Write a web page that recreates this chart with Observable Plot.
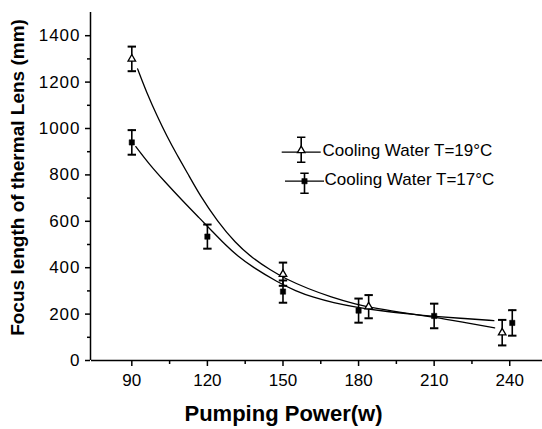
<!DOCTYPE html>
<html>
<head>
<meta charset="utf-8">
<script src="https://cdn.jsdelivr.net/npm/d3@7"></script>
<script src="https://cdn.jsdelivr.net/npm/@observablehq/plot@0.6"></script>
<style>
  html, body { margin: 0; padding: 0; background: #fff; }
  g[aria-label="y-axis tick label"] text { letter-spacing: 1px; }
</style>
</head>
<body>
<div id="chart"></div>
<script>
// --- data ---
const power19 = [90, 150, 184, 237];
const focus19 = [1300, 372, 232, 120];
const err19   = [53, 50, 50, 55];

const power17 = [90, 120, 150, 180, 210, 241];
const focus17 = [940, 534, 297, 215, 192, 162];
const err17   = [53, 52, 48, 52, 53, 55];

// fitted curves
const fit19X = [92.3, 96, 100, 104, 108, 112, 117, 124, 131, 138, 145, 151, 160, 169, 179, 187, 200, 210, 221, 234];
const fit19Y = [1257, 1152, 1055, 965, 885, 810, 712, 600, 508, 440, 390, 352, 309, 274, 242, 224, 202, 187, 166, 141];
const fit17X = [91.6, 97, 103, 110, 117, 122, 127, 132, 138, 148, 155, 162, 170, 179, 189, 200, 210, 222, 233.7];
const fit17Y = [922, 845, 772, 690, 612, 556, 500, 450, 402, 337, 300, 272, 249, 230, 214, 201, 190, 181, 172];

const xTicks = [90, 120, 150, 180, 210, 240];
const xMinor = [105, 135, 165, 195, 225];
const yTicks = [0, 200, 400, 600, 800, 1000, 1200, 1400];
const yMinor = [100, 300, 500, 700, 900, 1100, 1300];

const legendLabels = ["Cooling Water T=19\u00B0C", "Cooling Water T=17\u00B0C"];
const xLabel = "Pumping Power(w)";
const yLabel = "Focus length of thermal Lens (mm)";

// --- tables built from arrays ---
const pts19 = power19.map((x, i) => ({x, y: focus19[i], e: err19[i]}));
const pts17 = power17.map((x, i) => ({x, y: focus17[i], e: err17[i]}));
const curve19 = fit19X.map((x, i) => ({x, y: fit19Y[i]}));
const curve17 = fit17X.map((x, i) => ({x, y: fit17Y[i]}));

// custom symbols
const cap = {draw(c) { c.moveTo(-4.2, 0); c.lineTo(4.2, 0); }};
const legLine = {draw(c) { c.moveTo(-19.5, 0); c.lineTo(19.5, 0); }};
const legErr = (h) => ({draw(c) {
  c.moveTo(-4.2, -h); c.lineTo(4.2, -h);
  c.moveTo(0, -h); c.lineTo(0, h);
  c.moveTo(-4.2, h); c.lineTo(4.2, h);
}});

function errMarks(pts) {
  return [
    Plot.ruleX(pts, {x: "x", y1: d => d.y - d.e, y2: d => d.y + d.e, stroke: "black", strokeWidth: 1.6}),
    Plot.dot(pts, {x: "x", y: d => d.y + d.e, symbol: cap, stroke: "black", strokeWidth: 2, r: 4}),
    Plot.dot(pts, {x: "x", y: d => d.y - d.e, symbol: cap, stroke: "black", strokeWidth: 2, r: 4})
  ];
}

const chart = Plot.plot({
  width: 542,
  height: 429,
  marginLeft: 91,
  marginRight: 0,
  marginTop: 12,
  marginBottom: 69,
  x: {domain: [74, 253]},
  y: {domain: [0, 1500]},
  style: {fontFamily: "'Liberation Sans', Arial, sans-serif", fontSize: "17px", background: "white", color: "black", overflow: "visible"},
  marks: [
    // axes
    Plot.ruleY([0], {stroke: "black", strokeWidth: 1.5}),
    Plot.ruleX([74], {stroke: "black", strokeWidth: 1.5, dx: -1}),
    Plot.axisX(xTicks, {tickSize: 6, tickPadding: 7, fontSize: 17, label: null, strokeWidth: 1.5, tickFormat: d => String(d)}),
    Plot.axisX(xMinor, {tickSize: 4, tickFormat: () => "", label: null, strokeWidth: 1.5}),
    Plot.axisY(yTicks, {tickSize: 5, tickPadding: 5, fontSize: 17, label: null, strokeWidth: 1.5, dx: -1, tickFormat: d => String(d)}),
    Plot.axisY(yMinor, {tickSize: 3, tickFormat: () => "", label: null, strokeWidth: 1.5, dx: -1}),
    // fitted curves
    Plot.line(curve19, {x: "x", y: "y", curve: "basis", stroke: "black", strokeWidth: 1.3}),
    Plot.line(curve17, {x: "x", y: "y", curve: "basis", stroke: "black", strokeWidth: 1.3}),
    // error bars
    ...errMarks(pts19),
    ...errMarks(pts17),
    // markers
    Plot.dot(pts19, {x: "x", y: "y", symbol: "triangle", r: 2.8, fill: "white", stroke: "black", strokeWidth: 1.3}),
    Plot.dot(pts17, {x: "x", y: "y", symbol: "square", r: 3, fill: "black", stroke: "black", strokeWidth: 0.5}),
    // legend
    Plot.dot([0], {frameAnchor: "top-left", dx: 209.7, dy: 139.7, symbol: legLine, stroke: "black", strokeWidth: 1.3}),
    Plot.dot([0], {frameAnchor: "top-left", dx: 209.7, dy: 137.2, symbol: legErr(12.5), stroke: "black", strokeWidth: 1.6}),
    Plot.dot([0], {frameAnchor: "top-left", dx: 209.7, dy: 138, symbol: "triangle", r: 2.8, fill: "white", stroke: "black", strokeWidth: 1.3}),
    Plot.text([legendLabels[0]], {frameAnchor: "top-left", dx: 231, dy: 138.3, text: d => d, textAnchor: "start", lineAnchor: "middle", fontSize: 17}),
    Plot.dot([0], {frameAnchor: "top-left", dx: 213, dy: 168.7, symbol: legLine, stroke: "black", strokeWidth: 1.3}),
    Plot.dot([0], {frameAnchor: "top-left", dx: 213, dy: 170.7, symbol: legErr(10), stroke: "black", strokeWidth: 1.6}),
    Plot.dot([0], {frameAnchor: "top-left", dx: 213, dy: 168.7, symbol: "square", r: 3, fill: "black", stroke: "black", strokeWidth: 0.5}),
    Plot.text([legendLabels[1]], {frameAnchor: "top-left", dx: 233, dy: 167.2, text: d => d, textAnchor: "start", lineAnchor: "middle", fontSize: 17}),
    // axis titles
    Plot.text([xLabel], {frameAnchor: "bottom", dx: -33.5, dy: 60, text: d => d, textAnchor: "middle", lineAnchor: "bottom", fontSize: 22, fontWeight: "bold"}),
    Plot.text([yLabel], {frameAnchor: "left", dx: -73.5, dy: -9, text: d => d, rotate: -90, textAnchor: "middle", lineAnchor: "middle", fontSize: 19, fontWeight: "bold"})
  ]
});
document.getElementById("chart").appendChild(chart);
</script>
</body>
</html>
